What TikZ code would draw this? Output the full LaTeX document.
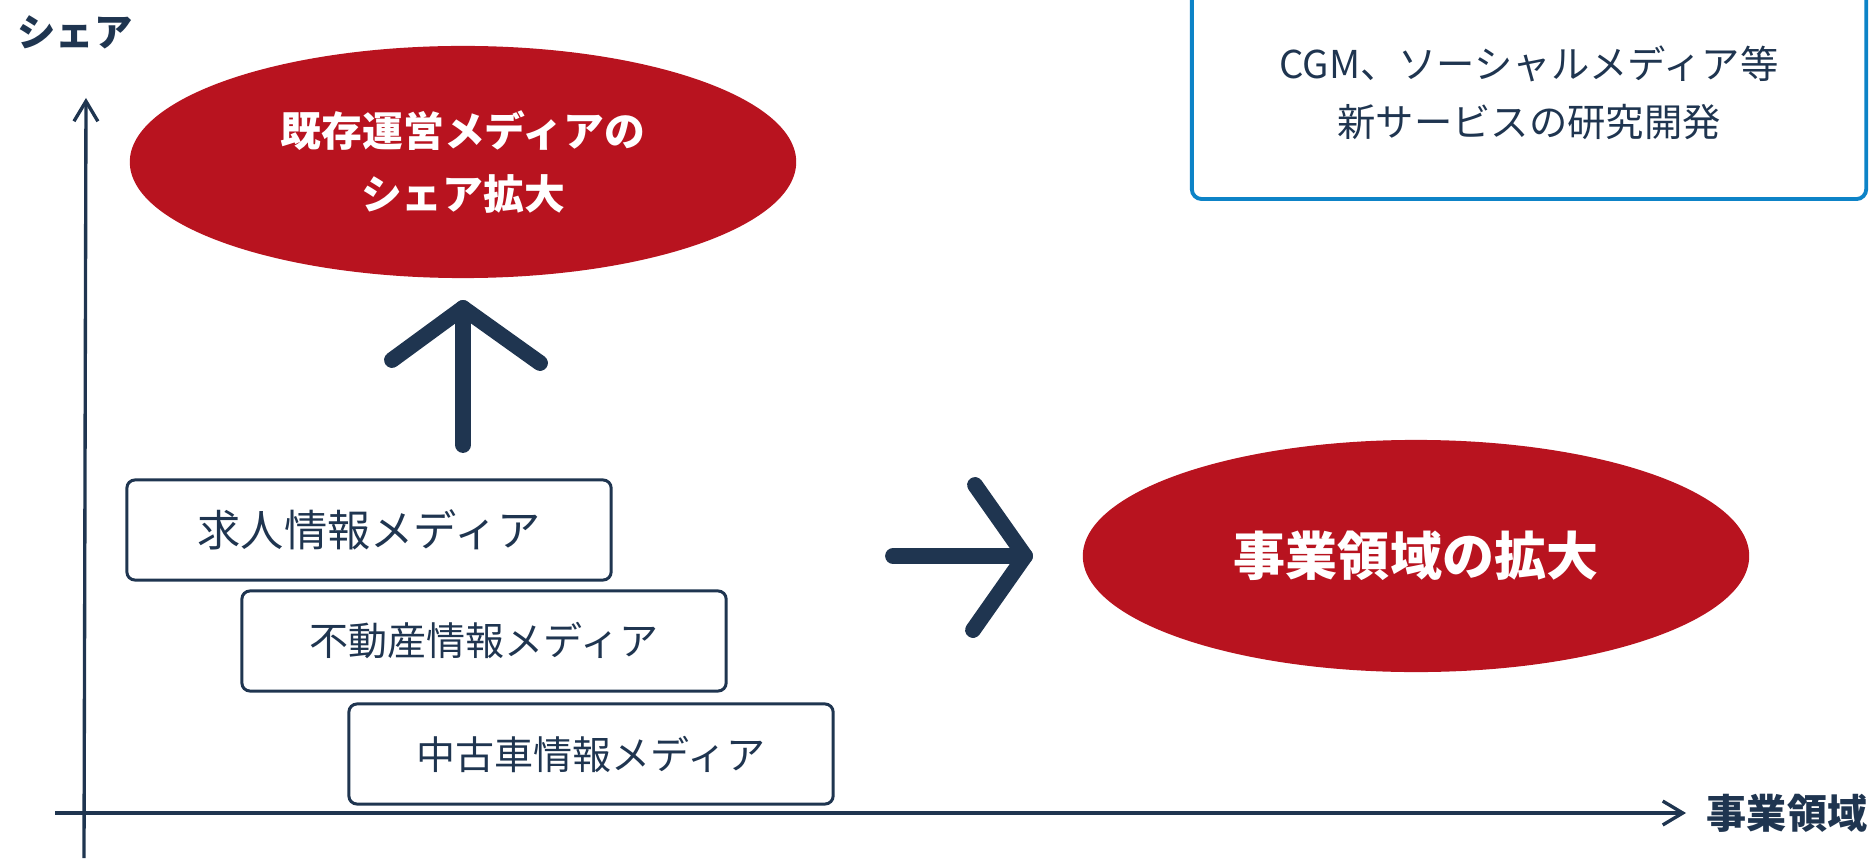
\documentclass[tikz,border=0pt]{standalone}
\usepackage{fontspec}
\setmainfont{Noto Sans CJK JP}
\usetikzlibrary{shapes.geometric,arrows.meta}
\definecolor{navy}{HTML}{1F3550}
\definecolor{mediared}{HTML}{B8131F}
\definecolor{noteblue}{HTML}{0D83C7}
\tikzset{
	axis/.style={draw=navy, line width=0.95pt, -{Straight Barb[length=5.7pt,width=6.8pt]}},
	axislabel/.style={text=navy, font=\bfseries\fontsize{11.4}{13}\selectfont, inner sep=0pt},
	mediabox/.style={draw=navy, line width=0.85pt, rounded corners=2.3pt, minimum width=4.84cm, minimum height=1cm, text=navy, font=\fontsize{11.1}{14}\selectfont},
	goal/.style={ellipse, fill=mediared, minimum width=6.66cm, minimum height=2.32cm, text=white, align=center, inner sep=0pt},
	notebox/.style={draw=noteblue, line width=1.1pt, rounded corners=2.8pt, minimum width=6.74cm, minimum height=2.12cm, text=navy, align=center, font=\fontsize{10.9}{16.5}\selectfont},
	bigarrow/.style={draw=navy, line width=4.5pt, line cap=round, line join=round}
}

\begin{document}
\begin{tikzpicture}[x=0.01cm,y=-0.01cm]
	\useasboundingbox (0,0) rectangle (1874,858);
	
	% Axes
	\coordinate (ybot) at (84,858);
	\coordinate (ytop) at (86,98);
	\coordinate (xleft) at (55,813);
	\coordinate (xright) at (1686,813);
	\draw[axis] (ybot) -- (ytop);
	\draw[axis] (xleft) -- (xright);
	\node[axislabel, font=\bfseries\fontsize{10.9}{13}\selectfont] (share) at (75,32) {シェア};
	\node[axislabel] (field) at (1787,813) {事業領域};
	
	% Media boxes
	\node[mediabox, font=\fontsize{12.3}{15}\selectfont] (job) at (369,530) {求人情報メディア};
	\node[mediabox] (estate) at (484,641) {不動産情報メディア};
	\node[mediabox] (car) at (591,754) {中古車情報メディア};
	
	% Goals
	\node[goal, font=\bfseries\fontsize{11.6}{18}\selectfont] (sharegoal) at (463,162) {既存運営メディアの\\シェア拡大};
	\node[goal, font=\bfseries\fontsize{14.8}{18}\selectfont] (fieldgoal) at (1416,556) {事業領域の拡大};
	
	% R&D note
	\node[notebox] (rnd) at (1529,93) {CGM、ソーシャルメディア等\\新サービスの研究開発};
	
	% Big arrows
	\coordinate (upfoot) at (463,445);
	\coordinate (uptip) at (463,308);
	\coordinate (upleft) at (392,360);
	\coordinate (upright) at (540,363);
	\draw[bigarrow] (upfoot) -- (uptip);
	\draw[bigarrow] (upleft) -- (uptip) -- (upright);
	\coordinate (rightfoot) at (893,556);
	\coordinate (righttip) at (1025,556);
	\coordinate (righttop) at (975,485);
	\coordinate (rightbot) at (973,630);
	\draw[bigarrow] (rightfoot) -- (righttip);
	\draw[bigarrow] (righttop) -- (righttip) -- (rightbot);
\end{tikzpicture}
\end{document}
